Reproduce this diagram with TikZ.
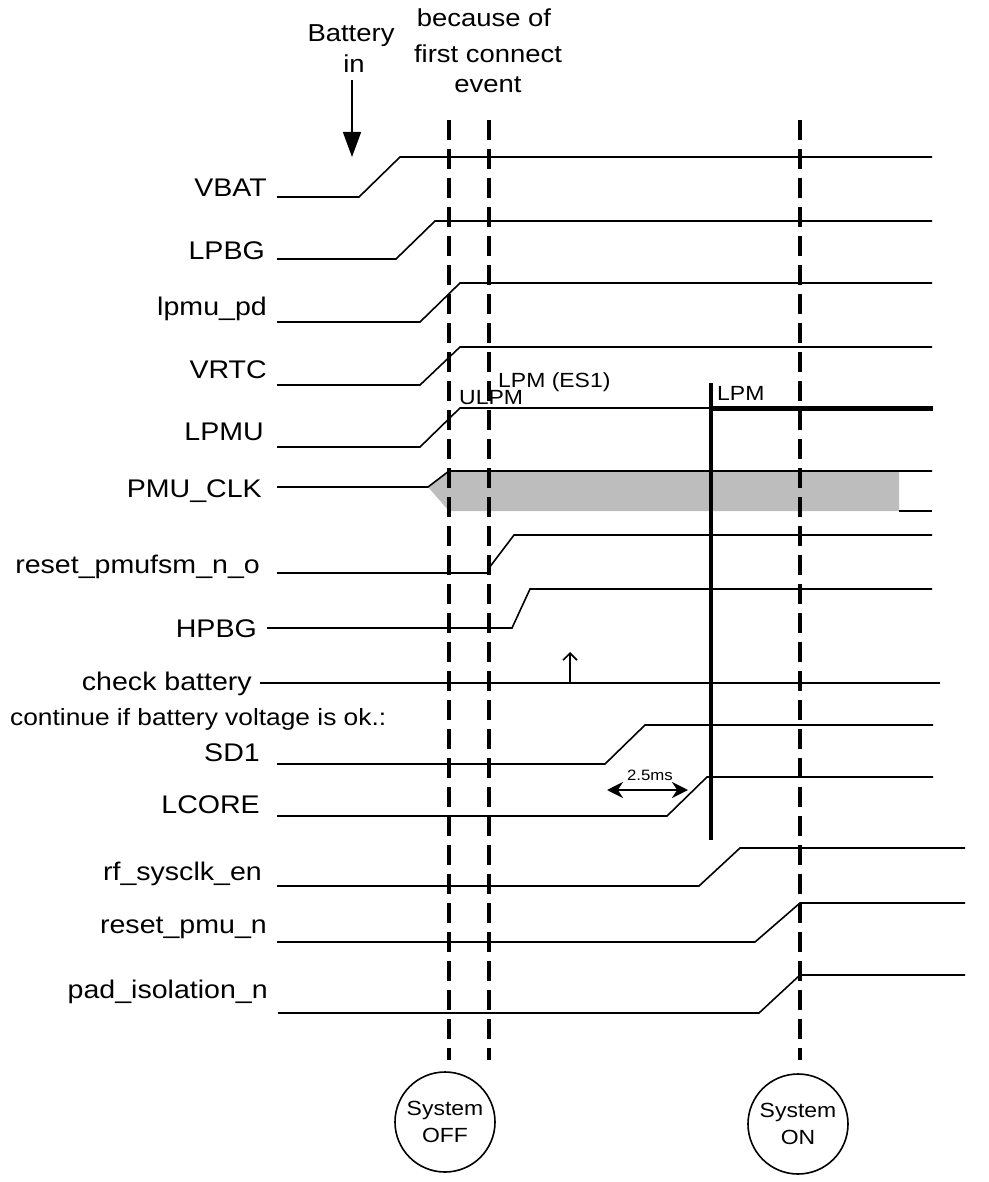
\documentclass[tikz,border=0pt]{standalone}
\usepackage{fontspec}
\setmainfont{Liberation Sans}[FakeStretch=1.12]
\usetikzlibrary{arrows.meta}
\begin{document}
\begin{tikzpicture}[x=1pt,y=-1pt,
  sig/.style={line width=1.6pt, line join=miter},
  vdash/.style={line width=3.6pt, dash pattern=on 20pt off 9pt},
  lbl/.style={anchor=base east, inner sep=0pt, font=\fontsize{25.5}{30}\selectfont},
  note/.style={anchor=base, inner sep=0pt, font=\fontsize{24.5}{30}\selectfont},
  mode/.style={anchor=base west, inner sep=0pt, font=\fontsize{20.5}{24}\selectfont},
  state/.style={circle, draw, line width=1.6pt, minimum size=100pt, inner sep=0pt, align=center, font=\fontsize{20.5}{27}\selectfont}]
\useasboundingbox[fill=white] (0,0) rectangle (988,1182);

% top annotations
\node[note] (bat1) at (351,42) {Battery};
\node[note] (bat2) at (354,73) {in};
\coordinate (batA) at (352,80);
\coordinate (batB) at (352,157);
\draw[line width=1.6pt,-{Triangle[length=25pt,width=18pt]}] (batA) -- (batB);
\node[note] (ev1) at (484,27) {because of};
\node[note] (ev2) at (488,63) {first connect};
\node[note] (ev3) at (488,93) {event};

% signal labels
\node[lbl] (vbat) at (267,197) {VBAT};
\node[lbl] (lpbg) at (265,259) {LPBG};
\node[lbl] (lpmupd) at (267,315) {lpmu\_pd};
\node[lbl] (vrtc) at (267,378) {VRTC};
\node[lbl] (lpmu) at (264,440) {LPMU};
\node[lbl] (pmuclk) at (262,497) {PMU\_CLK};
\node[lbl] (rstfsm) at (260,573) {reset\_pmufsm\_n\_o};
\node[lbl] (hpbg) at (257,637) {HPBG};
\node[lbl] (chk) at (252,690) {check battery};
\node[anchor=base west, inner sep=0pt, font=\fontsize{23.5}{28}\selectfont] (cont) at (10,725) {continue if battery voltage is ok.:};
\node[lbl] (sd1) at (260,761) {SD1};
\node[lbl] (lcore) at (260,813) {LCORE};
\node[lbl] (rfclk) at (262,880) {rf\_sysclk\_en};
\node[lbl] (rstpmu) at (267,933) {reset\_pmu\_n};
\node[lbl] (padiso) at (268,998) {pad\_isolation\_n};

% PMU_CLK gray band
\fill[black!26] (428,487) -- (449,471) -- (899,471) -- (899,511) -- (449,511) -- cycle;

% waveforms
\draw[sig] (277,197) -- (359,197) -- (400,157) -- (932,157);
\draw[sig] (277,259) -- (396,259) -- (435,221) -- (932,221);
\draw[sig] (277,322) -- (420,322) -- (460,283) -- (932,283);
\draw[sig] (277,385) -- (420,385) -- (460,347) -- (932,347);
\draw[sig] (277,447) -- (420,447) -- (460,408) -- (712,408);
\draw[line width=5pt] (712,408) -- (933,408);
\draw[sig] (277,487) -- (428,487) -- (449,471) -- (932,471);
\draw[sig] (899,511) -- (932,511);
\draw[sig] (277,573) -- (489,573) -- (489,568) -- (514,535) -- (932,535);
\draw[sig] (267,628) -- (512,628) -- (530,589) -- (932,589);
\draw[sig] (260,683) -- (940,683);
\draw[sig] (277,764) -- (605,764) -- (645,725) -- (933,725);
\draw[sig] (277,816) -- (667,816) -- (707,777) -- (933,777);
\draw[sig] (277,886) -- (699,886) -- (740,848) -- (965,848);
\draw[sig] (277,942) -- (755,942) -- (800,903) -- (965,903);
\draw[sig] (278,1013) -- (759,1013) -- (800,975) -- (965,975);

% mode labels
\node[mode] (ulpm) at (459,404) {ULPM};
\node[mode] (lpmes) at (498,387) {LPM (ES1)};
\node[mode] (lpm) at (717,400) {LPM};

% check battery arrow
\coordinate (upA) at (570,683);
\coordinate (upB) at (570,652);
\draw[line width=1.6pt,-{Straight Barb[length=7pt,width=14pt]}] (upA) -- (upB);

% 2.5ms
\coordinate (msA) at (607,790);
\coordinate (msB) at (688,790);
\draw[line width=2.6pt,{Stealth[length=16pt,width=16pt]}-{Stealth[length=16pt,width=16pt]}] (msA) -- (msB);
\node[anchor=base, inner sep=0pt, font=\fontsize{15}{18}\selectfont] (ms) at (650,780) {2.5ms};

% vertical markers
\draw[vdash] (449,120) -- (449,1060);
\draw[vdash] (489,120) -- (489,1060);
\draw[vdash] (800,120) -- (800,1060);
\draw[line width=3.5pt] (711,383) -- (711,840);

% states
\node[state] (off) at (445,1122) {System\\OFF};
\node[state] (on) at (798,1124) {System\\ON};
\end{tikzpicture}
\end{document}
